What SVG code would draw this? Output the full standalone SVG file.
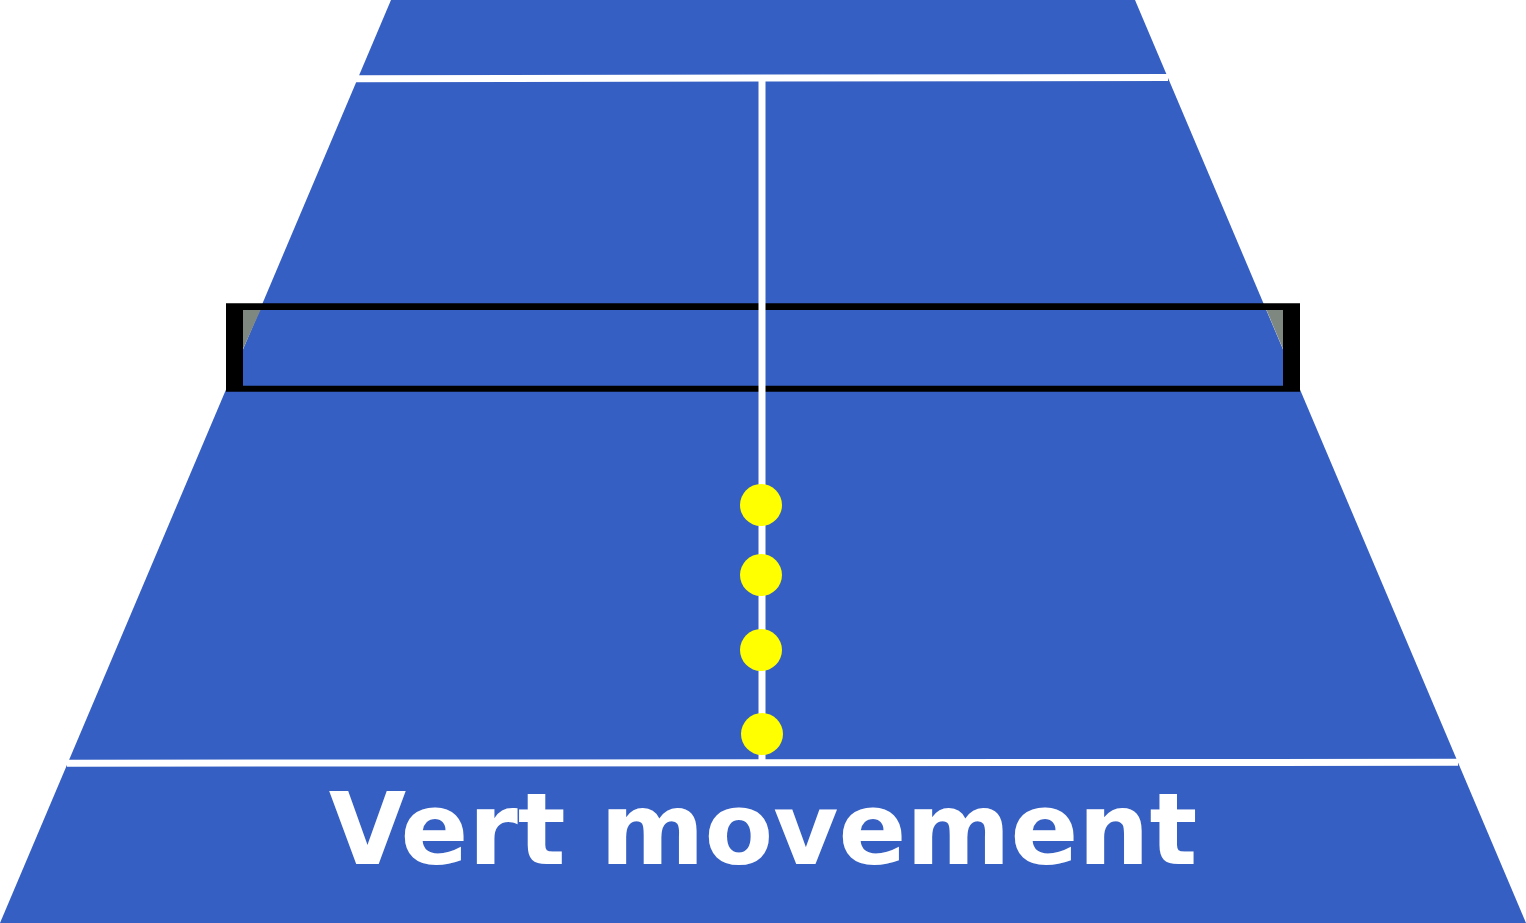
<svg xmlns="http://www.w3.org/2000/svg" width="1526" height="923" viewBox="0 0 1526 923">
  <style>
    .court { fill: #355fc2; }
    .line { stroke: #ffffff; stroke-width: 7; fill: none; }
    .ball { fill: #ffff00; }
    .netpost { fill: #7f8781; }
    .label { font-family: "DejaVu Sans", Verdana, sans-serif; font-weight: bold; font-size: 100px; fill: #ffffff; }
  </style>
  <rect width="1526" height="923" fill="#ffffff"/>
  <g id="court">
    <polygon class="court" points="391,0 1135,0 1526,923 0,923"/>
  </g>
  <g id="court-lines">
    <line class="line" x1="355" y1="78.7" x2="1168" y2="77.5"/>
    <line class="line" x1="67" y1="763.2" x2="1458" y2="762.3"/>
  </g>
  <g id="net">
    <polygon class="netpost" points="243,309 261,309 243,349"/>
    <polygon class="netpost" points="1266,309 1283,309 1283,349"/>
    <path fill="#000000" fill-rule="evenodd" d="M226,303.3 H1300 V391.7 H226 Z M243,310 V385.7 H1283 V310 Z"/>
  </g>
  <g id="center-line">
    <line class="line" x1="762" y1="80" x2="762" y2="760"/>
  </g>
  <g id="balls">
    <circle class="ball" cx="761" cy="505" r="21"/>
    <circle class="ball" cx="761" cy="575" r="21"/>
    <circle class="ball" cx="761" cy="650" r="21"/>
    <circle class="ball" cx="762" cy="734" r="21"/>
  </g>
  <g id="title">
    <text class="label" x="763" y="864" text-anchor="middle">Vert movement</text>
  </g>
</svg>
